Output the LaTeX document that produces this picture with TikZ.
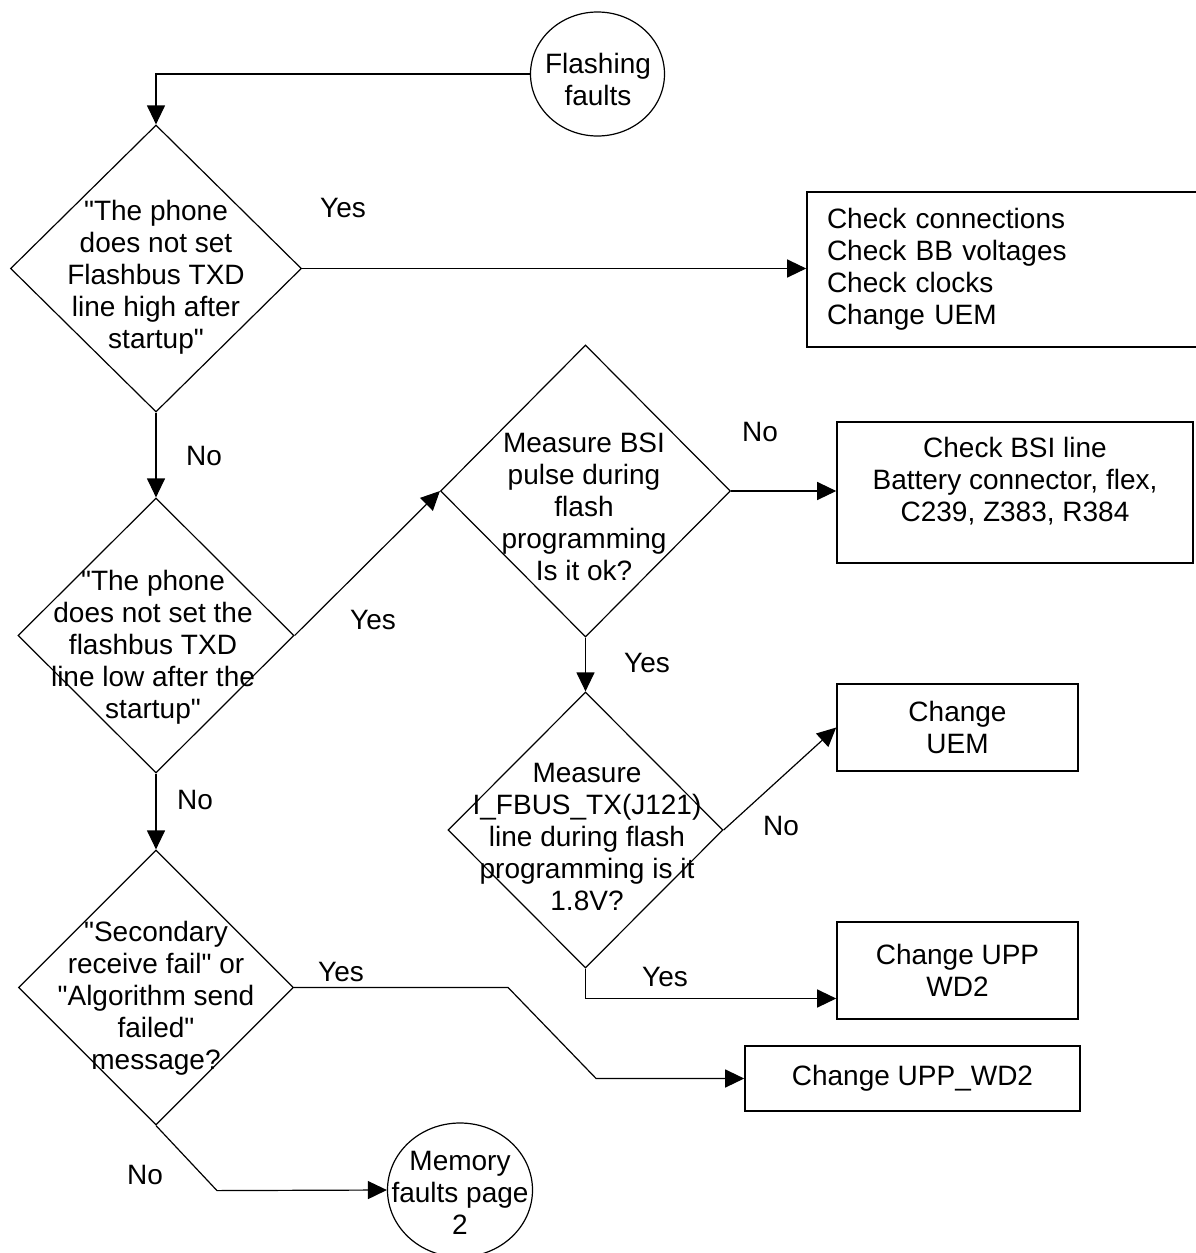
\documentclass[tikz,border=0pt]{standalone}
\usepackage{fontspec}
\setmainfont{Liberation Sans}
\newfontfamily\flowfont{Liberation Sans}
\usetikzlibrary{shapes,arrows.meta}

\begin{document}
\begin{tikzpicture}[x=0.5pt, y=-0.5pt, font=\flowfont\fontsize{14pt}{16pt}\selectfont,
      decision/.style = {
        diamond, draw, line width=0.6pt, inner sep=0pt },
      terminal/.style = {
        ellipse, draw, line width=0.6pt, inner sep=0pt },
      block/.style = {
        rectangle, draw, line width=0.8pt, align=center },
      qtext/.style = { align=center, inner sep=0pt },
      line/.style = { draw, line width=0.6pt, ->, >={Triangle[length=9.5pt, width=9pt]} }]
    \useasboundingbox (0,0) rectangle (1195,1253);
    % terminals and decisions, their texts set over them
    \node [terminal, minimum width=67pt, minimum height=62pt] (start) at (597.5, 74) {};
    \node [qtext] (starttext) at (598, 79) {Flashing\\faults};
    \node [decision, minimum width=145.5pt, minimum height=143.5pt] (q1) at (156, 268.5) {};
    \node [qtext] (q1text) at (156, 277) {"The phone\\does not set\\Flashbus TXD\\line high after\\startup"};
    \node [decision, minimum width=138pt, minimum height=137.5pt] (q2) at (156, 635.5) {};
    \node [qtext] (q2text) at (153, 647) {"The phone\\does not set the\\flashbus TXD\\line low after the\\startup"};
    \node [decision, minimum width=137.5pt, minimum height=137.5pt] (q3) at (156, 987.5) {};
    \node [qtext] (q3text) at (156, 998) {"Secondary\\receive fail" or\\"Algorithm send\\failed"\\message?};
    \node [decision, minimum width=145pt, minimum height=146pt] (m1) at (585.5, 491) {};
    \node [qtext] (m1text) at (584, 507) {Measure BSI\\pulse during\\flash\\programming\\Is it ok?};
    \node [decision, minimum width=137.5pt, minimum height=138pt] (m2) at (585.5, 830) {};
    \node [qtext] (m2text) at (587, 837) {Measure\\I\_FBUS\_TX(J121)\\line during flash\\programming is it\\1.8V?};
    \node [terminal, minimum width=72.5pt, minimum height=67pt] (mem) at (460, 1190) {};
    \node [qtext] (memtext) at (460, 1193) {Memory\\faults page\\2};
    % action boxes
    \node [block, align=left, text width=181.5pt, inner xsep=10pt, minimum height=77.5pt] (chk) at (1008.5, 269.5)
    {Check connections\\Check BB voltages\\Check clocks\\Change UEM};
    \node [block, minimum width=178pt, minimum height=70.5pt, text depth=13pt] (bsi) at (1015, 492.5)
    {Check BSI line\\Battery connector, flex,\\C239, Z383, R384};
    \node [block, minimum width=120.5pt, minimum height=43.5pt] (uem) at (957.5, 727.5) {Change\\UEM};
    \node [block, minimum width=120.5pt, minimum height=48.5pt] (upp) at (957.5, 970.5) {Change UPP\\WD2};
    \node [block, minimum width=167.5pt, minimum height=32.5pt] (uppw) at (912.5, 1078.5) {Change UPP\_WD2};
    % branch labels
    \node (yes1) at (343, 208) {Yes};
    \node (no1) at (204, 456) {No};
    \node (yes2) at (373, 620) {Yes};
    \node (no2) at (760, 432) {No};
    \node (yes3) at (647, 663) {Yes};
    \node (no3) at (195, 800) {No};
    \node (no4) at (781, 826) {No};
    \node (yes4) at (665, 977) {Yes};
    \node (yes5) at (341, 972) {Yes};
    \node (no5) at (145, 1175) {No};
    % connect all nodes defined above
    \draw[line] (start.west) -| (q1.north);
    \draw[line] (q1.east) -- (q1.east -| chk.west);
    \draw[line] (q1.south) -- (q2.north);
    \draw[line] (q2.east) -- (m1.west);
    \draw[line] (m1.east) -- (m1.east -| bsi.west);
    \draw[line] (m1.south) -- (m2.north);
    \draw[line] (m2.east) -- (uem.west);
    \draw[line] (m2.south) |- ([yshift=-14pt]upp.west);
    \draw[line] (q2.south) -- (q3.north);
    \draw[line] (q3.east) -- ++(214,0) -- ++(88,91) -- (uppw.west);
    \draw[line] (q3.south) -- ++(61,65) -- (mem.west);
  \end{tikzpicture}
\end{document}
